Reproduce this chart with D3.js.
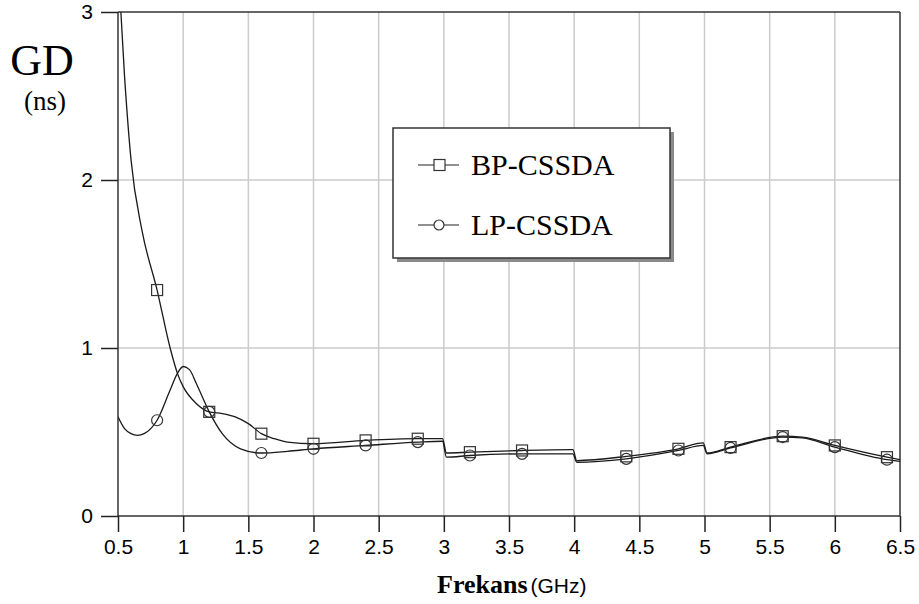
<!DOCTYPE html>
<html>
<head>
<meta charset="utf-8">
<script src="https://cdn.jsdelivr.net/npm/d3@7"></script>
<style>
  body { margin: 0; background: #fff; }
  svg { display: block; }
</style>
</head>
<body>
<div id="graph"></div>
<script>
// group delay curves (GHz -> ns)
var bpFreq = [0.5, 0.55, 0.6, 0.684, 0.8, 0.9, 0.96, 1.0, 1.1, 1.2, 1.3, 1.4, 1.5, 1.6, 1.7, 1.8, 2.0, 2.4, 2.8, 2.99, 3.02, 3.2, 3.6, 3.99, 4.02, 4.4, 4.8, 4.99, 5.02, 5.2, 5.6, 5.75, 6.0, 6.4, 6.5];
var bpGD   = [3.3, 2.62, 2.12, 1.70, 1.345, 1.0, 0.84, 0.77, 0.67, 0.62, 0.61, 0.59, 0.55, 0.49, 0.46, 0.44, 0.43, 0.45, 0.46, 0.46, 0.375, 0.38, 0.39, 0.395, 0.33, 0.355, 0.40, 0.435, 0.375, 0.41, 0.475, 0.47, 0.42, 0.35, 0.335];

var lpFreq = [0.5, 0.55, 0.6, 0.65, 0.7, 0.8, 0.9, 0.95, 1.0, 1.05, 1.1, 1.2, 1.3, 1.44, 1.6, 1.8, 2.0, 2.4, 2.8, 2.99, 3.02, 3.2, 3.6, 3.99, 4.02, 4.4, 4.8, 4.99, 5.02, 5.2, 5.6, 5.75, 6.0, 6.4, 6.5];
var lpGD   = [0.59, 0.52, 0.49, 0.48, 0.49, 0.57, 0.75, 0.84, 0.89, 0.87, 0.79, 0.62, 0.49, 0.40, 0.375, 0.385, 0.40, 0.42, 0.44, 0.445, 0.35, 0.36, 0.37, 0.37, 0.32, 0.34, 0.39, 0.42, 0.37, 0.405, 0.47, 0.465, 0.41, 0.335, 0.325];

// where the symbols sit
var markerFreq = [0.8, 1.2, 1.6, 2.0, 2.4, 2.8, 3.2, 3.6, 4.0, 4.4, 4.8, 5.2, 5.6, 6.0, 6.4];
var xTicks = [0.5, 1, 1.5, 2, 2.5, 3, 3.5, 4, 4.5, 5, 5.5, 6, 6.5];
var yTicks = [0, 1, 2, 3];
var seriesNames = ["BP-CSSDA", "LP-CSSDA"];

var width = 919, height = 604;
var pLeft = 118, pRight = 900, pTop = 12, pBottom = 516;

var x = d3.scaleLinear().domain([0.5, 6.5]).range([pLeft, pRight]);
var y = d3.scaleLinear().domain([0, 3]).range([pBottom, pTop]);

var svg = d3.select("div#graph")
    .append("svg")
    .attr("width", width)
    .attr("height", height);

svg.append("defs").append("clipPath")
    .attr("id", "plot")
    .append("rect")
    .attr("x", pLeft).attr("y", pTop)
    .attr("width", pRight - pLeft).attr("height", pBottom - pTop);

// grid
svg.selectAll("line.vgrid")
    .data(xTicks.slice(1, -1))
    .enter().append("line")
    .attr("x1", function(d) {return x(d)}).attr("x2", function(d) {return x(d)})
    .attr("y1", pTop).attr("y2", pBottom)
    .attr("stroke", "#cbcbcb").attr("stroke-width", 1.5);

svg.selectAll("line.hgrid")
    .data([1, 2])
    .enter().append("line")
    .attr("x1", pLeft).attr("x2", pRight)
    .attr("y1", function(d) {return y(d)}).attr("y2", function(d) {return y(d)})
    .attr("stroke", "#cbcbcb").attr("stroke-width", 1.5);

// frame (top and right)
svg.append("line").attr("x1", pLeft).attr("x2", pRight).attr("y1", pTop).attr("y2", pTop)
    .attr("stroke", "#333").attr("stroke-width", 1.5);
svg.append("line").attr("x1", pRight).attr("x2", pRight).attr("y1", pTop).attr("y2", pBottom)
    .attr("stroke", "#333").attr("stroke-width", 1.5);

// axes
var xAxis = d3.axisBottom(x).tickValues(xTicks).tickSize(16).tickPadding(7)
    .tickFormat(function(d) {return String(d)});
var yAxis = d3.axisLeft(y).tickValues(yTicks).tickSize(17).tickPadding(8)
    .tickFormat(d3.format("d"));

var gx = svg.append("g").attr("transform", "translate(0," + pBottom + ")").call(xAxis);
var gy = svg.append("g").attr("transform", "translate(" + pLeft + ",0)").call(yAxis);

[gx, gy].forEach(function(g) {
    g.select(".domain").attr("stroke", "#333").attr("stroke-width", 1.5);
    g.selectAll(".tick line").attr("stroke", "#222").attr("stroke-width", 1.5);
    g.selectAll(".tick text")
	.attr("fill", "#000")
	.style("font-family", "'Liberation Sans', Arial, sans-serif")
	.style("font-size", "21px");
});
gx.select(".domain").attr("d", "M" + pLeft + ",0H" + pRight);
gy.select(".domain").attr("d", "M0," + pTop + "V" + pBottom);

// curves
var line = d3.line()
    .x(function(d) {return x(d[0])})
    .y(function(d) {return y(d[1])})
    .curve(d3.curveMonotoneX);

var bp = bpFreq.map(function(f, i) {return [f, bpGD[i]]});
var lp = lpFreq.map(function(f, i) {return [f, lpGD[i]]});

var plot = svg.append("g").attr("clip-path", "url(#plot)");

[bp, lp].forEach(function(s) {
    plot.append("path")
	.datum(s)
	.attr("d", line)
	.attr("fill", "none")
	.attr("stroke", "#1a1a1a")
	.attr("stroke-width", 1.3);
});

function onMarker(s) {
    return s.filter(function(d) {
	return markerFreq.some(function(m) {return Math.abs(m - d[0]) < 1e-6});
    });
}

plot.selectAll("circle.lp")
    .data(onMarker(lp))
    .enter().append("circle")
    .attr("cx", function(d) {return x(d[0])})
    .attr("cy", function(d) {return y(d[1])})
    .attr("r", 5.5)
    .attr("fill", "none").attr("stroke", "#333").attr("stroke-width", 1.2);

plot.selectAll("rect.bp")
    .data(onMarker(bp))
    .enter().append("rect")
    .attr("x", function(d) {return x(d[0]) - 5.5})
    .attr("y", function(d) {return y(d[1]) - 5.5})
    .attr("width", 11).attr("height", 11)
    .attr("fill", "none").attr("stroke", "#333").attr("stroke-width", 1.2);

// legend
var lg = svg.append("g");
lg.append("rect").attr("x", 397).attr("y", 132).attr("width", 277).attr("height", 130)
    .attr("fill", "#8a8a8a");
lg.append("rect").attr("x", 393).attr("y", 128).attr("width", 277).attr("height", 130)
    .attr("fill", "#fff").attr("stroke", "#333").attr("stroke-width", 1.5);

seriesNames.forEach(function(name, i) {
    var ly = 165 + i * 60;
    lg.append("line").attr("x1", 418).attr("x2", 459).attr("y1", ly).attr("y2", ly)
	.attr("stroke", "#222").attr("stroke-width", 1.2);
    if (i == 0) {
	lg.append("rect").attr("x", 434).attr("y", ly - 5.5).attr("width", 11).attr("height", 11)
	    .attr("fill", "#fff").attr("stroke", "#333").attr("stroke-width", 1.2);
    } else {
	lg.append("circle").attr("cx", 439).attr("cy", ly).attr("r", 5)
	    .attr("fill", "#fff").attr("stroke", "#333").attr("stroke-width", 1.2);
    }
    lg.append("text").attr("x", 471).attr("y", ly + 10)
	.style("font-family", "'Liberation Serif', 'Times New Roman', serif")
	.style("font-size", "30px")
	.text(name);
});

// axis titles
var serif = "'Liberation Serif', 'Times New Roman', serif";
svg.append("text").attr("x", 42).attr("y", 75).attr("text-anchor", "middle")
    .style("font-family", serif).style("font-size", "44px").text("GD");
svg.append("text").attr("x", 45).attr("y", 110).attr("text-anchor", "middle")
    .style("font-family", serif).style("font-size", "27px").text("(ns)");

var xt = svg.append("text").attr("x", 437).attr("y", 593)
    .style("font-family", serif).style("font-size", "26px").style("font-weight", "bold");
xt.append("tspan").text("Frekans");
xt.append("tspan").attr("dx", 3)
    .style("font-family", "'Liberation Sans', Arial, sans-serif")
    .style("font-size", "21px").style("font-weight", "normal")
    .text("(GHz)");
</script>
</body>
</html>
